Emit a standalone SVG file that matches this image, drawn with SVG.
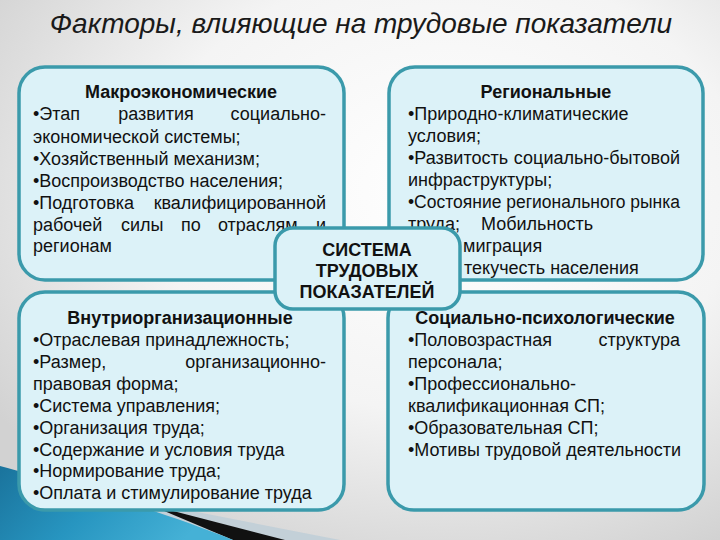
<svg xmlns="http://www.w3.org/2000/svg" width="720" height="540" viewBox="0 0 720 540">
<defs>
<radialGradient id="bg" cx="0.62" cy="0.35" r="0.75">
<stop offset="0" stop-color="#ffffff"/>
<stop offset="0.55" stop-color="#f4f4f4"/>
<stop offset="1" stop-color="#d2d2d2"/>
</radialGradient>
<linearGradient id="blue" x1="0" y1="0" x2="1" y2="0.3">
<stop offset="0" stop-color="#1a739c"/>
<stop offset="0.5" stop-color="#2795c0"/>
<stop offset="1" stop-color="#45b1d6"/>
</linearGradient>
<style>
.box{fill:#dcf2f8;stroke:#3b9aab;stroke-width:3.5}
.t{font-family:"Liberation Sans",Arial,sans-serif;font-size:18px;fill:#111}
.b{font-weight:bold;text-anchor:middle}
.e{text-anchor:end}
.m{text-anchor:middle}
.title{font-family:"Liberation Sans",Arial,sans-serif;font-size:28px;font-style:italic;fill:#1a1a1a;text-anchor:middle}
</style>
</defs>
<rect width="720" height="540" fill="url(#bg)"/>
<g id="decor">
<polygon points="110,495 340,540 200,540" fill="#c3d0d8"/>
<polygon points="150,505 285,540 233,540" fill="#111"/>
<path d="M0,466 C60,482 160,510 233,540 L0,540 Z" fill="url(#blue)"/>
</g>
<text class="title" x="361" y="33">Факторы, влияющие на трудовые показатели</text>
<g id="connectors"/>
<g id="macro">
<rect class="box" x="19" y="67" width="325" height="213" rx="26"/>
<text class="t b" x="181" y="98">Макроэкономические</text>
<text class="t" x="33" y="120">•Этап</text>
<text class="t m" x="156" y="120">развития</text>
<text class="t e" x="326" y="120">социально-</text>
<text class="t" x="33" y="143">экономической системы;</text>
<text class="t" x="33" y="165">•Хозяйственный механизм;</text>
<text class="t" x="33" y="187">•Воспроизводство населения;</text>
<text class="t" x="33" y="209">•Подготовка</text>
<text class="t e" x="326" y="209">квалифицированной</text>
<text class="t" x="33" y="231">рабочей</text>
<text class="t" x="121" y="231">силы</text>
<text class="t" x="181" y="231">по</text>
<text class="t" x="218" y="231">отраслям</text>
<text class="t e" x="326" y="231">и</text>
<text class="t" x="33" y="252">регионам</text>
</g>
<g id="regional">
<rect class="box" x="389" y="67" width="314" height="213" rx="26"/>
<text class="t b" x="546" y="98">Региональные</text>
<text class="t" x="408" y="120">•Природно-климатические</text>
<text class="t" x="408" y="142">условия;</text>
<text class="t" x="408" y="164">•Развитость</text>
<text class="t e" x="680" y="164">социально-бытовой</text>
<text class="t" x="408" y="186">инфраструктуры;</text>
<text class="t" x="408" y="208" textLength="272" lengthAdjust="spacingAndGlyphs">•Состояние регионального рынка</text>
<text class="t" x="408" y="230">труда;</text>
<text class="t" x="481" y="230">Мобильность</text>
<text class="t" x="463" y="252">миграция</text>
<text class="t" x="464" y="274">текучесть населения</text>
</g>
<g id="intra">
<rect class="box" x="19" y="292" width="325" height="218" rx="26"/>
<text class="t b" x="180" y="324">Внутриорганизационные</text>
<text class="t" x="33" y="346">•Отраслевая принадлежность;</text>
<text class="t" x="33" y="368">•Размер,</text>
<text class="t e" x="326" y="368">организационно-</text>
<text class="t" x="33" y="390">правовая форма;</text>
<text class="t" x="33" y="412">•Система управления;</text>
<text class="t" x="33" y="434">•Организация труда;</text>
<text class="t" x="33" y="456">•Содержание и условия труда</text>
<text class="t" x="33" y="477">•Нормирование труда;</text>
<text class="t" x="33" y="499">•Оплата и стимулирование труда</text>
</g>
<g id="socio">
<rect class="box" x="388" y="292" width="316" height="218" rx="26"/>
<text class="t b" x="545" y="324">Социально-психологические</text>
<text class="t" x="408" y="346">•Половозрастная</text>
<text class="t e" x="680" y="346">структура</text>
<text class="t" x="408" y="368">персонала;</text>
<text class="t" x="408" y="390">•Профессионально-</text>
<text class="t" x="408" y="412">квалификационная СП;</text>
<text class="t" x="408" y="434">•Образовательная СП;</text>
<text class="t" x="408" y="456">•Мотивы трудовой деятельности</text>
</g>
<g id="center">
<rect class="box" x="275" y="228" width="185" height="81" rx="18"/>
<text class="t b" x="367" y="256">СИСТЕМА</text>
<text class="t b" x="367" y="277">ТРУДОВЫХ</text>
<text class="t b" x="367" y="298">ПОКАЗАТЕЛЕЙ</text>
</g>
</svg>
